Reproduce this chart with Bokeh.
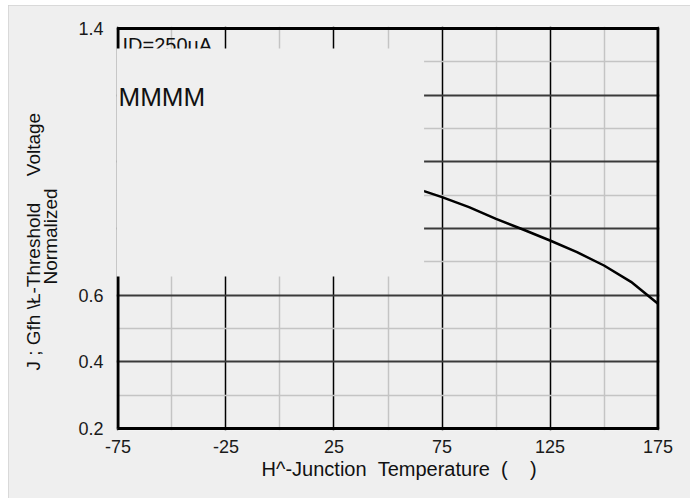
import numpy as np
from bokeh.plotting import figure
from bokeh.models import FixedTicker, Label, BoxAnnotation, PrintfTickFormatter
from bokeh.embed import file_html
from bokeh.resources import INLINE

# ---- data ----
temps = [-75, -50, -25, 0, 25, 50, 66.7, 75, 87.5, 100, 112.5, 125, 137.5, 150, 162.5, 175]
vth_norm = [1.21, 1.165, 1.115, 1.06, 1.0, 0.952, 0.912, 0.894, 0.864, 0.829, 0.797, 0.764, 0.729, 0.689, 0.640, 0.574]
x_ticks = [-75, -25, 25, 75, 125, 175]
x_minor = [-50, 0, 50, 100, 150]
y_ticks = [0.2, 0.4, 0.6, 0.8, 1.0, 1.2, 1.4]
y_minor = [0.3, 0.5, 0.7, 0.9, 1.1, 1.3]
hidden_y_labels = [0.8, 1.0, 1.2]
patch_x = (-80, 66.7)      # blank patch in the reference
patch_y = (0.656, 1.34)

W, H = 682, 493
FONT = "Liberation Sans"
BG = "#efefef"
NB = "\u00a0"

xpad, ypad = 0.694, 0.006
p = figure(width=W, height=H,
           x_range=(x_ticks[0] - xpad, x_ticks[-1] + xpad),
           y_range=(y_ticks[0] - ypad, y_ticks[-1] + ypad),
           output_backend="svg", toolbar_location=None,
           min_border_left=108, min_border_right=31, min_border_top=21, min_border_bottom=68)
p.background_fill_color = BG
p.border_fill_color = BG
p.outline_line_color = None
p.styles = {"margin": "5px 0 0 8px", "outline": "2px solid #d2d2d2", "outline-offset": "-2px"}

p.xaxis.ticker = FixedTicker(ticks=x_ticks, minor_ticks=x_minor)
p.xaxis.formatter = PrintfTickFormatter(format="%d")
p.yaxis.ticker = FixedTicker(ticks=y_ticks, minor_ticks=y_minor)
p.yaxis.major_label_overrides = {v: "" for v in hidden_y_labels}
for ax in (p.xaxis, p.yaxis):
    ax.axis_line_color = None
    ax.major_tick_line_color = None
    ax.minor_tick_line_color = None
    ax.major_label_text_font = FONT
    ax.major_label_text_font_size = "18px"
    ax.major_label_text_color = "#1a1a1a"
    ax.axis_label_text_font = FONT
    ax.axis_label_text_font_style = "normal"
    ax.axis_label_text_color = "#111111"
p.xaxis.major_label_standoff = 3
p.yaxis.major_label_standoff = 7

p.yaxis.axis_label = ("J ; Gfh \\Ł-Threshold" + NB * 5 + "Voltage" + NB * 5 + "\n"
                      + "Normalized" + NB * 3)
p.yaxis.axis_label_text_font_size = "19px"
p.yaxis.axis_label_text_line_height = 0.85
p.yaxis.axis_label_standoff = 14

p.xaxis.axis_label = (NB * 4 + "H^-Junction" + NB * 2 + "Temperature" + NB * 2
                      + "(" + NB * 4 + ")")
p.xaxis.axis_label_text_font_size = "20px"
p.xaxis.axis_label_standoff = 2

p.xgrid.grid_line_color = "black"
p.xgrid.grid_line_width = 1.5
p.xgrid.minor_grid_line_color = "#c4c4c4"
p.xgrid.minor_grid_line_width = 1.5
p.ygrid.grid_line_color = "#3a3a3a"
p.ygrid.grid_line_width = 2
p.ygrid.minor_grid_line_color = "#c4c4c4"
p.ygrid.minor_grid_line_width = 1.5

p.line(temps, vth_norm, line_color="black", line_width=2.5)

# frame border, from the tick extremes
x0, x1, y0, y1 = x_ticks[0], x_ticks[-1], y_ticks[0], y_ticks[-1]
p.multi_line(xs=[[x0, x1, x1, x0, x0]], ys=[[y0, y0, y1, y1, y0]],
             line_color="black", line_width=3)

# label positions in screen pixels relative to the plot frame
p.add_layout(Label(x=6, y=386, x_units="screen", y_units="screen", text="ID=250uA",
                   text_font=FONT, text_font_size="20px", text_color="#111111",
                   text_baseline="alphabetic", text_align="left"))

p.add_layout(BoxAnnotation(left=patch_x[0], right=patch_x[1], bottom=patch_y[0], top=patch_y[1],
                           fill_color=BG, fill_alpha=1.0, line_color=None, level="overlay"))

p.add_layout(Label(x=2, y=334, x_units="screen", y_units="screen", text="MMMM",
                   text_font=FONT, text_font_size="26px", text_color="#111111",
                   text_baseline="alphabetic", text_align="left", level="overlay"))

open("out.html", "w").write(file_html(p, INLINE))
